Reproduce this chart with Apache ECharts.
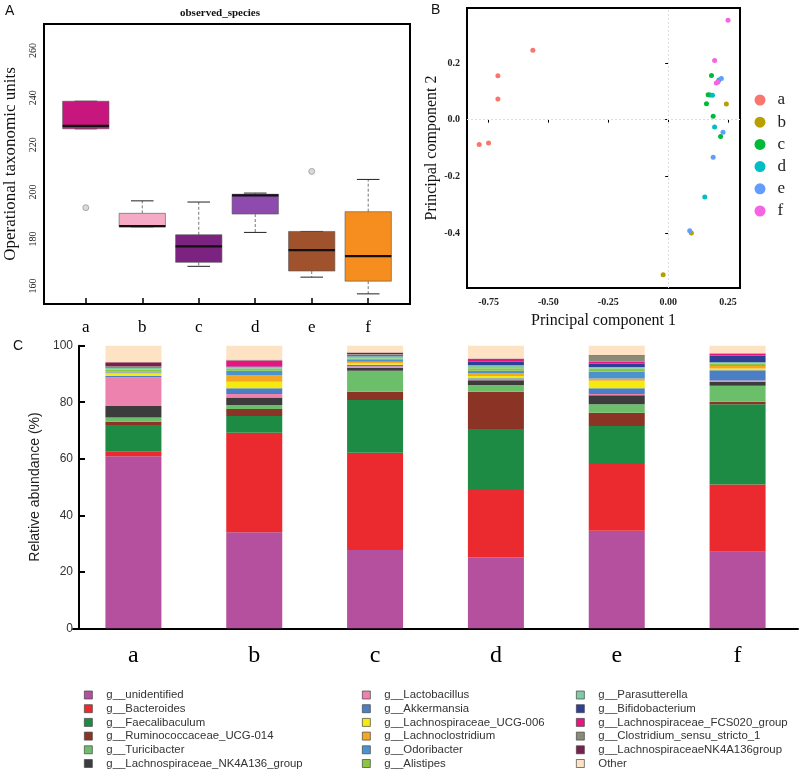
<!DOCTYPE html>
<html><head><meta charset="utf-8">
<script src="https://cdn.jsdelivr.net/npm/echarts@6/dist/echarts.min.js"></script>
<style>html,body{margin:0;padding:0;background:#fff}#c{width:800px;height:772px}</style>
</head><body><div id="c"></div>
<script>
// ---------- Panel A: boxplot (observed_species) ----------
const boxGroups = ['a', 'b', 'c', 'd', 'e', 'f'];
const boxLow  = [226.8, 185.2, 168.4, 182.8, 163.8, 156.7];
const boxQ1   = [226.8, 185.2, 170.1, 190.6, 166.4, 162.1];
const boxMed  = [228.0, 185.5, 176.9, 198.5, 175.3, 172.7];
const boxQ3   = [238.5, 190.9, 181.8, 199.0, 183.2, 191.6];
const boxHigh = [238.5, 196.2, 195.7, 199.5, 183.2, 205.3];
const outlierGroup = ['a', 'e'];
const outlierValue = [193.3, 208.7];
const boxTicks = [160, 180, 200, 220, 240, 260];

// ---------- Panel B: PCA ----------
const pcaGroups = ['a', 'b', 'c', 'd', 'e', 'f'];
const pcaA = [[-0.565, 0.245], [-0.711, 0.155], [-0.711, 0.073], [-0.789, -0.088], [-0.750, -0.082]];
const pcaB = [[0.243, 0.055], [0.097, -0.400], [-0.021, -0.547]];
const pcaC = [[0.181, 0.156], [0.167, 0.088], [0.160, 0.056], [0.188, 0.012], [0.219, -0.059], [0.175, 0.087]];
const pcaD = [[0.185, 0.086], [0.194, -0.026], [0.153, -0.273], [0.212, 0.140]];
const pcaE = [[0.222, 0.145], [0.229, -0.044], [0.188, -0.133], [0.090, -0.392]];
const pcaF = [[0.250, 0.351], [0.194, 0.209], [0.201, 0.129], [0.208, 0.133]];
const pcaXTicks = [-0.75, -0.5, -0.25, 0, 0.25];
const pcaYTicks = [-0.4, -0.2, 0, 0.2];

// ---------- Panel C: relative abundance ----------
const samples = ['a', 'b', 'c', 'd', 'e', 'f'];
const genera = ['g__unidentified', 'g__Bacteroides', 'g__Faecalibaculum', 'g__Ruminococcaceae_UCG-014',
  'g__Turicibacter', 'g__Lachnospiraceae_NK4A136_group', 'g__Lactobacillus', 'g__Akkermansia',
  'g__Lachnospiraceae_UCG-006', 'g__Lachnoclostridium', 'g__Odoribacter', 'g__Alistipes',
  'g__Parasutterella', 'g__Bifidobacterium', 'g__Lachnospiraceae_FCS020_group',
  'g__Clostridium_sensu_stricto_1', 'g__LachnospiraceaeNK4A136group', 'Other'];
const sampleA = [60.9, 1.6, 9.4, 1.2, 1.5, 4.1, 10.1, 0.6, 0.8, 0.3, 0.3, 0.8, 0.6, 0.2, 0.1, 0.2, 1.4, 5.9];
const sampleB = [34.0, 35.2, 5.9, 2.5, 1.4, 2.7, 1.2, 2.0, 2.3, 2.4, 1.5, 0.7, 0.7, 0.1, 2.2, 0.1, 0.1, 5.0];
const sampleC = [27.7, 34.4, 18.7, 2.9, 7.4, 1.1, 0.5, 0.6, 0.6, 0.4, 0.6, 0.6, 0.8, 0.3, 0.2, 0.3, 0.5, 2.4];
const sampleD = [25.1, 24.2, 21.2, 13.2, 2.4, 1.7, 0.4, 0.3, 0.8, 0.9, 0.9, 0.9, 1.1, 1.2, 1.0, 0.1, 0.1, 4.5];
const sampleE = [34.5, 23.6, 13.5, 4.7, 3.0, 3.2, 0.4, 2.0, 2.7, 0.8, 2.4, 1.0, 0.7, 1.2, 0.6, 2.2, 0.2, 3.3];
const sampleF = [27.1, 23.8, 28.4, 0.9, 5.6, 1.4, 0.5, 3.6, 0.6, 1.0, 0.3, 0.4, 0.5, 2.4, 0.6, 0.1, 0.1, 2.7];

// ---------- styles ----------
const SERIF = '"Liberation Serif", "DejaVu Serif", serif';
const SANS = '"Liberation Sans", Arial, sans-serif';
const boxFill = ['#C8167F', '#F5AAC6', '#7C2381', '#8E4BAE', '#A0522D', '#F58E1E'];
const pcaColors = ['#F8766D', '#B79F00', '#00BA38', '#00BFC4', '#619CFF', '#F564E3'];
const genusColors = ['#B5509E', '#EA2A2F', '#1E8B45', '#8B3325', '#6BBF6A', '#3C3C3C', '#EE82AE',
  '#4A7FC5', '#F4EA10', '#F5A623', '#4A93CF', '#8CC63F', '#7FCBA4', '#2E3F95', '#E6157F',
  '#8A8A7A', '#7A1F4E', '#FDE3C3'];

const sampleRows = [sampleA, sampleB, sampleC, sampleD, sampleE, sampleF];
const pcaSets = [pcaA, pcaB, pcaC, pcaD, pcaE, pcaF];

const boxData = boxGroups.map((g, i) => [i + 1, boxLow[i], boxQ1[i], boxMed[i], boxQ3[i], boxHigh[i]]);
const outlierData = outlierGroup.map((g, i) => [boxGroups.indexOf(g) + 1, outlierValue[i]]);

function renderBox(params, api) {
  const x = api.value(0);
  const low = api.coord([x, api.value(1)]);
  const q1 = api.coord([x, api.value(2)]);
  const med = api.coord([x, api.value(3)]);
  const q3 = api.coord([x, api.value(4)]);
  const high = api.coord([x, api.value(5)]);
  const half = api.size([0.41, 0])[0];
  const cap = api.size([0.2, 0])[0];
  const cx = med[0];
  const dash = {stroke: '#777', lineWidth: 1, lineDash: [3, 2]};
  const solid = {stroke: '#222', lineWidth: 1};
  return {
    type: 'group',
    children: [
      {type: 'line', shape: {x1: cx, y1: q3[1], x2: cx, y2: high[1]}, style: dash},
      {type: 'line', shape: {x1: cx, y1: q1[1], x2: cx, y2: low[1]}, style: dash},
      {type: 'line', shape: {x1: cx - cap, y1: high[1], x2: cx + cap, y2: high[1]}, style: solid},
      {type: 'line', shape: {x1: cx - cap, y1: low[1], x2: cx + cap, y2: low[1]}, style: solid},
      {type: 'rect', shape: {x: cx - half, y: q3[1], width: 2 * half, height: q1[1] - q3[1]},
        style: {fill: boxFill[params.dataIndex], stroke: '#555', lineWidth: 0.6}},
      {type: 'line', shape: {x1: cx - half, y1: med[1], x2: cx + half, y2: med[1]},
        style: {stroke: '#111', lineWidth: 2.2}}
    ]
  };
}

const barSeries = genera.map((name, gi) => ({
  name: name,
  type: 'bar',
  stack: 'abund',
  xAxisIndex: 2, yAxisIndex: 2,
  barWidth: 56,
  itemStyle: {color: genusColors[gi]},
  emphasis: {disabled: true},
  data: sampleRows.map(r => r[gi])
}));

const scatterSeries = pcaGroups.map((g, i) => ({
  name: g,
  type: 'scatter',
  xAxisIndex: 1, yAxisIndex: 1,
  symbolSize: 5,
  itemStyle: {color: pcaColors[i], opacity: 1},
  data: pcaSets[i],
  markLine: i === 0 ? {
    silent: true, symbol: 'none', label: {show: false},
    lineStyle: {color: '#dddddd', type: [2, 2], width: 1},
    data: [{xAxis: 0}, {yAxis: 0}]
  } : undefined
}));

const legendCommonC = {
  orient: 'vertical', selectedMode: false, icon: 'rect', itemWidth: 8, itemHeight: 8, itemGap: 1.7,
  padding: 0, height: 90, width: 260,
  itemStyle: {borderColor: '#444', borderWidth: 0.7},
  textStyle: {fontFamily: SANS, fontSize: 11.4, lineHeight: 12, color: '#333', padding: [0, 0, 0, 9]}
};

const option = {
  animation: false,
  backgroundColor: '#fff',
  grid: [
    {left: 44, top: 24, width: 366, height: 280, show: true, borderColor: '#000', borderWidth: 2},
    {left: 467, top: 8, width: 273, height: 280, show: true, borderColor: '#000', borderWidth: 2},
    {left: 73, top: 345.7, width: 725, height: 282.6}
  ],
  xAxis: [
    {gridIndex: 0, type: 'value', min: 0.26, max: 6.74,
      axisLine: {show: false}, splitLine: {show: false},
      axisTick: {show: true, inside: true, length: 6, customValues: [1, 2, 3, 4, 5, 6], lineStyle: {color: '#000', width: 1.5}},
      axisLabel: {show: true, customValues: [1, 2, 3, 4, 5, 6], formatter: v => boxGroups[Math.round(v) - 1],
        margin: 15, fontFamily: SERIF, fontSize: 17, color: '#000'}},
    {gridIndex: 1, type: 'value', min: -0.84, max: 0.30,
      name: 'Principal component 1', nameLocation: 'middle', nameGap: 25,
      nameTextStyle: {fontFamily: SERIF, fontSize: 16, color: '#111'},
      axisLine: {show: false}, splitLine: {show: false},
      axisTick: {show: true, length: 3, customValues: pcaXTicks, lineStyle: {color: '#000'}},
      axisLabel: {customValues: pcaXTicks, formatter: v => v.toFixed(2), margin: 9,
        fontFamily: SERIF, fontSize: 10, fontWeight: 'bold', color: '#222'}},
    {gridIndex: 2, type: 'category', data: samples,
      axisLine: {show: true, lineStyle: {color: '#000', width: 2}},
      axisTick: {show: false},
      axisLabel: {margin: 15, fontFamily: SERIF, fontSize: 24, color: '#000'}}
  ],
  yAxis: [
    {gridIndex: 0, type: 'value', min: 152.4, max: 271.3,
      name: 'Operational taxonomic units', nameLocation: 'middle', nameGap: 25,
      nameTextStyle: {fontFamily: SERIF, fontSize: 17, color: '#111'},
      axisLine: {show: false}, splitLine: {show: false},
      axisTick: {show: false},
      axisLabel: {customValues: boxTicks, rotate: 90, margin: 6,
        fontFamily: SERIF, fontSize: 10, color: '#222'}},
    {gridIndex: 1, type: 'value', min: -0.594, max: 0.394,
      name: 'Principal component 2', nameLocation: 'middle', nameGap: 27,
      nameTextStyle: {fontFamily: SERIF, fontSize: 16, color: '#111'},
      axisLine: {show: false}, splitLine: {show: false},
      axisTick: {show: true, length: 3, customValues: pcaYTicks, lineStyle: {color: '#000'}},
      axisLabel: {customValues: pcaYTicks, formatter: v => v.toFixed(1), margin: 7,
        fontFamily: SERIF, fontSize: 10, fontWeight: 'bold', color: '#222'}},
    {gridIndex: 2, type: 'value', min: 0, max: 100, interval: 20, offset: -6,
      name: 'Relative abundance (%)', nameLocation: 'middle', nameGap: 30,
      nameTextStyle: {fontFamily: SANS, fontSize: 14, color: '#222'},
      axisLine: {show: true, lineStyle: {color: '#000', width: 2}},
      axisTick: {show: true, inside: true, length: 6, lineStyle: {color: '#000', width: 2}},
      splitLine: {show: false},
      axisLabel: {margin: 6, fontFamily: SANS, fontSize: 12, color: '#333'}}
  ],
  legend: [
    {
      orient: 'vertical', selectedMode: false, icon: 'circle', itemWidth: 11, itemHeight: 11, itemGap: 5.2,
      padding: 0, left: 754.5, top: 91.5, data: pcaGroups,
      textStyle: {fontFamily: SERIF, fontSize: 17, lineHeight: 17, color: '#222', padding: [0, 0, 0, 7]}
    },
    Object.assign({}, legendCommonC, {left: 84, top: 689, data: genera.slice(0, 6)}),
    Object.assign({}, legendCommonC, {left: 362, top: 689, data: genera.slice(6, 12)}),
    Object.assign({}, legendCommonC, {left: 576, top: 689, width: 224, data: genera.slice(12, 18)})
  ],
  graphic: [
    {type: 'text', x: 5, y: 4, style: {text: 'A', font: '14px ' + SANS, fill: '#111'}},
    {type: 'text', x: 220, y: 13, style: {text: 'observed_species', align: 'center', verticalAlign: 'middle',
      font: 'bold 11px ' + SERIF, fill: '#111'}},
    {type: 'text', x: 431, y: 3, style: {text: 'B', font: '14px ' + SANS, fill: '#111'}},
    {type: 'text', x: 13, y: 339, style: {text: 'C', font: '14px ' + SANS, fill: '#111'}}
  ],
  series: [
    {type: 'custom', name: 'box', xAxisIndex: 0, yAxisIndex: 0, renderItem: renderBox,
      encode: {x: 0, y: [1, 2, 3, 4, 5]}, data: boxData, silent: true},
    {type: 'scatter', name: 'outliers', xAxisIndex: 0, yAxisIndex: 0, symbolSize: 6,
      itemStyle: {color: '#cfcfcf', borderColor: '#888', borderWidth: 0.8}, data: outlierData}
  ].concat(scatterSeries, barSeries)
};

const chart = echarts.init(document.getElementById('c'), null, {renderer: 'canvas'});
chart.setOption(option);
</script>
</body></html>
